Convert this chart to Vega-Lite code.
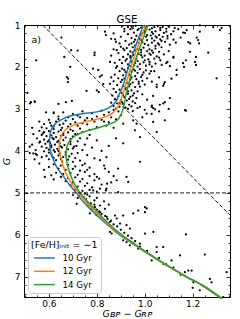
{
  "$schema": "https://vega.github.io/schema/vega-lite/v6.json",
  "width": 206,
  "height": 272,
  "autosize": {"type": "none"},
  "padding": {"left": 24, "top": 25, "right": 10, "bottom": 22},
  "config": {
    "font": "DejaVu Sans",
    "view": {"stroke": "black", "strokeWidth": 1},
    "axis": {"grid": false, "domain": false, "tickColor": "black", "tickWidth": 0.8, "labelColor": "black", "titleColor": "black", "labelFontSize": 9, "titleFontSize": 9.5, "titleFontWeight": "normal"}
  },
  "title": {"text": "GSE", "fontSize": 10.2, "fontWeight": "normal", "offset": 0, "dy": 4, "color": "black"},
  "datasets": {
    "stars": [
      {"c":0.905,"g":1.03},{"c":0.93,"g":1.05},{"c":0.962,"g":1.02},{"c":0.985,"g":1.06},{"c":1.01,"g":1.03},{"c":1.03,"g":1.08},{"c":1.055,"g":1.02},{"c":1.075,"g":1.05},{"c":1.1,"g":1.04},{"c":1.125,"g":1.07},
      {"c":0.94,"g":1.1},{"c":0.97,"g":1.12},{"c":1.0,"g":1.14},{"c":1.02,"g":1.11},{"c":1.045,"g":1.15},{"c":1.065,"g":1.12},{"c":1.09,"g":1.16},{"c":0.915,"g":1.15},{"c":0.955,"g":1.18},{"c":0.99,"g":1.2},
      {"c":1.035,"g":1.21},{"c":1.06,"g":1.24},{"c":1.08,"g":1.19},{"c":1.11,"g":1.22},{"c":0.93,"g":1.22},{"c":0.965,"g":1.26},{"c":1.005,"g":1.28},{"c":1.025,"g":1.25},{"c":1.05,"g":1.3},{"c":1.075,"g":1.28},
      {"c":0.9,"g":1.28},{"c":0.945,"g":1.31},{"c":0.98,"g":1.33},{"c":1.01,"g":1.36},{"c":1.04,"g":1.37},{"c":1.065,"g":1.34},{"c":1.095,"g":1.32},{"c":0.92,"g":1.38},{"c":0.955,"g":1.4},{"c":0.975,"g":1.43},
      {"c":1.0,"g":1.45},{"c":1.03,"g":1.42},{"c":1.055,"g":1.44},{"c":1.085,"g":1.4},{"c":0.895,"g":1.44},{"c":0.935,"g":1.47},{"c":0.96,"g":1.49},{"c":0.985,"g":1.36},{"c":1.015,"g":1.48},{"c":1.045,"g":1.5},
      {"c":1.14,"g":1.1},{"c":1.16,"g":1.18},{"c":1.15,"g":1.3},{"c":1.13,"g":1.42},{"c":1.12,"g":1.35},{"c":1.105,"g":1.47},{"c":0.87,"g":1.2},{"c":0.86,"g":1.33},{"c":0.88,"g":1.4},{"c":0.95,"g":1.08},
      {"c":0.915,"g":1.09},{"c":0.945,"g":1.04},{"c":0.975,"g":1.09},{"c":1.0,"g":1.06},{"c":1.04,"g":1.05},{"c":1.065,"g":1.07},{"c":1.09,"g":1.09},{"c":1.0,"g":1.17},{"c":1.03,"g":1.17},{"c":0.98,"g":1.24},
      {"c":1.045,"g":1.27},{"c":1.095,"g":1.26},{"c":0.96,"g":1.35},{"c":1.03,"g":1.32},{"c":1.07,"g":1.38},{"c":0.99,"g":1.41},{"c":1.06,"g":1.47},{"c":0.945,"g":1.44},{"c":1.01,"g":1.24},{"c":1.12,"g":1.15},
      {"c":0.9,"g":1.52},{"c":0.925,"g":1.55},{"c":0.95,"g":1.53},{"c":0.97,"g":1.57},{"c":0.995,"g":1.54},{"c":1.02,"g":1.58},{"c":1.045,"g":1.56},{"c":1.07,"g":1.53},{"c":0.915,"g":1.6},{"c":0.94,"g":1.63},
      {"c":0.96,"g":1.61},{"c":0.985,"g":1.65},{"c":1.01,"g":1.62},{"c":1.035,"g":1.66},{"c":1.06,"g":1.64},{"c":0.89,"g":1.67},{"c":0.93,"g":1.7},{"c":0.955,"g":1.72},{"c":0.975,"g":1.69},{"c":1.0,"g":1.73},
      {"c":1.025,"g":1.71},{"c":1.05,"g":1.75},{"c":1.08,"g":1.7},{"c":0.91,"g":1.76},{"c":0.94,"g":1.78},{"c":0.965,"g":1.8},{"c":0.99,"g":1.77},{"c":1.015,"g":1.82},{"c":1.04,"g":1.8},{"c":0.895,"g":1.83},
      {"c":0.92,"g":1.85},{"c":0.945,"g":1.87},{"c":0.97,"g":1.86},{"c":0.995,"g":1.89},{"c":1.02,"g":1.88},{"c":1.045,"g":1.92},{"c":0.905,"g":1.91},{"c":0.93,"g":1.94},{"c":0.955,"g":1.96},{"c":0.98,"g":1.93},
      {"c":1.005,"g":1.97},{"c":0.885,"g":1.98},{"c":1.1,"g":1.62},{"c":1.12,"g":1.78},{"c":1.095,"g":1.88},{"c":0.87,"g":1.58},{"c":0.86,"g":1.73},{"c":0.875,"g":1.9},{"c":1.065,"g":1.84},{"c":1.03,"g":1.99},
      {"c":0.91,"g":1.56},{"c":0.985,"g":1.59},{"c":1.03,"g":1.61},{"c":0.95,"g":1.66},{"c":1.02,"g":1.68},{"c":0.94,"g":1.74},{"c":0.985,"g":1.72},{"c":1.06,"g":1.78},{"c":0.925,"g":1.81},{"c":1.0,"g":1.84},
      {"c":0.96,"g":1.91},{"c":1.02,"g":1.94},{"c":0.94,"g":1.98},{"c":0.97,"g":1.99},
      {"c":0.88,"g":2.02},{"c":0.905,"g":2.04},{"c":0.93,"g":2.03},{"c":0.955,"g":2.06},{"c":0.98,"g":2.05},{"c":1.005,"g":2.08},{"c":0.895,"g":2.1},{"c":0.92,"g":2.12},{"c":0.945,"g":2.11},{"c":0.97,"g":2.14},
      {"c":0.995,"g":2.13},{"c":1.02,"g":2.16},{"c":0.875,"g":2.18},{"c":0.91,"g":2.2},{"c":0.935,"g":2.19},{"c":0.96,"g":2.22},{"c":0.985,"g":2.24},{"c":0.89,"g":2.27},{"c":0.915,"g":2.28},{"c":0.94,"g":2.3},
      {"c":0.965,"g":2.29},{"c":0.99,"g":2.33},{"c":0.87,"g":2.34},{"c":0.9,"g":2.36},{"c":0.925,"g":2.38},{"c":0.95,"g":2.37},{"c":0.975,"g":2.4},{"c":1.0,"g":2.42},{"c":0.885,"g":2.43},{"c":0.91,"g":2.45},
      {"c":0.935,"g":2.46},{"c":0.96,"g":2.48},{"c":0.98,"g":2.47},{"c":1.04,"g":2.1},{"c":1.06,"g":2.25},{"c":1.03,"g":2.35},{"c":1.08,"g":2.4},{"c":1.05,"g":2.48},{"c":0.86,"g":2.25},{"c":0.855,"g":2.4},
      {"c":0.915,"g":2.07},{"c":0.96,"g":2.09},{"c":0.99,"g":2.19},{"c":0.945,"g":2.25},{"c":0.905,"g":2.31},{"c":0.975,"g":2.35},{"c":0.94,"g":2.41},{"c":0.92,"g":2.49},{"c":1.01,"g":2.27},
      {"c":0.87,"g":2.52},{"c":0.895,"g":2.54},{"c":0.92,"g":2.53},{"c":0.945,"g":2.56},{"c":0.97,"g":2.58},{"c":0.88,"g":2.6},{"c":0.905,"g":2.62},{"c":0.93,"g":2.64},{"c":0.955,"g":2.63},{"c":0.865,"g":2.68},
      {"c":0.89,"g":2.7},{"c":0.915,"g":2.72},{"c":0.94,"g":2.71},{"c":0.965,"g":2.74},{"c":0.875,"g":2.77},{"c":0.9,"g":2.79},{"c":0.925,"g":2.8},{"c":0.95,"g":2.82},{"c":0.86,"g":2.85},{"c":0.885,"g":2.87},
      {"c":0.91,"g":2.88},{"c":0.935,"g":2.9},{"c":0.96,"g":2.86},{"c":0.87,"g":2.93},{"c":0.895,"g":2.95},{"c":0.92,"g":2.97},{"c":0.99,"g":2.65},{"c":1.01,"g":2.78},{"c":1.03,"g":2.92},{"c":0.98,"g":2.95},
      {"c":0.93,"g":2.58},{"c":0.91,"g":2.67},{"c":0.95,"g":2.68},{"c":0.935,"g":2.76},{"c":0.905,"g":2.84},{"c":0.945,"g":2.94},{"c":0.88,"g":2.99},
      {"c":0.652,"g":1.3},{"c":0.547,"g":1.84},{"c":0.664,"g":1.76},{"c":0.693,"g":1.6},{"c":0.791,"g":1.66},{"c":0.79,"g":1.72},{"c":0.689,"g":2.0},{"c":0.784,"g":2.04},{"c":0.821,"g":2.2},{"c":0.675,"g":2.24},
      {"c":0.679,"g":2.36},{"c":0.8,"g":2.56},{"c":0.808,"g":2.6},{"c":0.51,"g":2.62},{"c":0.525,"g":2.84},{"c":0.54,"g":2.82},{"c":0.64,"g":2.88},{"c":0.671,"g":2.84},{"c":0.696,"g":2.81},{"c":0.62,"g":3.08},
      {"c":0.588,"g":3.08},{"c":0.72,"g":1.61},{"c":0.68,"g":2.28},{"c":0.834,"g":1.16},{"c":0.838,"g":1.24},{"c":0.876,"g":1.34},{"c":0.883,"g":1.6},{"c":0.855,"g":1.88},{"c":0.806,"g":2.07},{"c":0.813,"g":2.23},
      {"c":0.827,"g":2.41},{"c":0.757,"g":2.57},
      {"c":1.175,"g":1.12},{"c":1.23,"g":1.16},{"c":1.314,"g":1.12},{"c":1.265,"g":1.66},{"c":1.19,"g":1.44},{"c":1.223,"g":1.36},{"c":1.227,"g":1.44},{"c":1.3,"g":2.27},{"c":1.352,"g":1.56},{"c":1.21,"g":1.88},
      {"c":1.16,"g":1.91},{"c":1.164,"g":2.0},{"c":1.12,"g":1.76},{"c":1.09,"g":1.91},{"c":1.23,"g":1.01},{"c":1.286,"g":1.05},{"c":1.321,"g":1.07},{"c":1.182,"g":1.41},{"c":1.217,"g":1.3},{"c":1.168,"g":1.19},
      {"c":1.172,"g":1.84},{"c":1.214,"g":1.76},{"c":1.214,"g":1.95},{"c":1.189,"g":1.64},{"c":1.133,"g":2.19},{"c":1.133,"g":2.07},{"c":1.105,"g":1.98},{"c":1.071,"g":1.95},{"c":1.112,"g":2.28},{"c":1.084,"g":2.36},
      {"c":1.077,"g":2.45},{"c":1.05,"g":2.42},{"c":1.105,"g":2.74},{"c":1.084,"g":2.84},{"c":1.063,"g":2.9},{"c":1.035,"g":2.69},{"c":1.035,"g":2.98},{"c":1.043,"g":3.01},{"c":1.172,"g":3.04},{"c":1.029,"g":3.12},
      {"c":1.026,"g":2.1},
      {"c":1.029,"g":2.95},{"c":1.077,"g":2.87},{"c":1.008,"g":3.11},{"c":1.168,"g":3.03},{"c":0.952,"g":3.27},{"c":0.966,"g":3.35},{"c":0.98,"g":3.67},{"c":0.959,"g":3.51},{"c":0.91,"g":3.82},{"c":0.889,"g":4.42},
      {"c":0.883,"g":4.7},{"c":0.924,"g":4.62},{"c":0.843,"g":4.78},{"c":0.834,"g":4.42},{"c":0.813,"g":4.22},{"c":0.8,"g":4.62},{"c":0.785,"g":4.94},{"c":0.813,"g":4.9},{"c":0.838,"g":4.94},{"c":1.008,"g":5.37},
      {"c":1.035,"g":3.31},{"c":1.05,"g":3.55},{"c":1.084,"g":3.27},{"c":0.98,"g":4.26},{"c":0.931,"g":4.74},{"c":0.889,"g":4.98},{"c":0.93,"g":3.0},{"c":0.95,"g":3.05},{"c":0.97,"g":2.98},{"c":1.0,"g":3.02},
      {"c":1.06,"g":3.06},{"c":1.1,"g":3.0},{"c":0.99,"g":3.2},
      {"c":0.521,"g":2.87},{"c":0.542,"g":2.83},{"c":0.583,"g":4.62},{"c":0.535,"g":4.06},{"c":0.545,"g":4.07},{"c":0.563,"g":3.78},{"c":0.53,"g":3.45},{"c":0.535,"g":3.6},{"c":0.52,"g":3.9},{"c":0.56,"g":4.3},
      {"c":0.58,"g":4.45},
      {"c":0.62,"g":3.1},{"c":0.66,"g":3.08},{"c":0.7,"g":3.12},{"c":0.74,"g":3.06},{"c":0.78,"g":3.1},{"c":0.82,"g":3.04},{"c":0.85,"g":3.08},{"c":0.87,"g":3.02},{"c":0.89,"g":3.06},{"c":0.64,"g":3.18},
      {"c":0.68,"g":3.2},{"c":0.72,"g":3.16},{"c":0.76,"g":3.22},{"c":0.8,"g":3.18},{"c":0.83,"g":3.14},{"c":0.86,"g":3.2},{"c":0.6,"g":3.26},{"c":0.63,"g":3.3},{"c":0.67,"g":3.28},{"c":0.71,"g":3.32},
      {"c":0.75,"g":3.27},{"c":0.79,"g":3.3},{"c":0.82,"g":3.26},{"c":0.85,"g":3.32},{"c":0.58,"g":3.36},{"c":0.61,"g":3.4},{"c":0.645,"g":3.38},{"c":0.68,"g":3.42},{"c":0.72,"g":3.4},{"c":0.76,"g":3.37},
      {"c":0.8,"g":3.43},{"c":0.59,"g":3.46},{"c":0.62,"g":3.48},{"c":0.655,"g":3.45},{"c":0.69,"g":3.49},{"c":0.73,"g":3.47},{"c":0.77,"g":3.5},{"c":0.57,"g":3.44},{"c":0.605,"g":3.33},{"c":0.7,"g":3.24},
      {"c":0.88,"g":3.25},{"c":0.9,"g":3.15},{"c":0.84,"g":3.4},{"c":0.87,"g":3.45},{"c":0.56,"g":3.3},{"c":0.66,"g":3.35},{"c":0.74,"g":3.34},{"c":0.91,"g":3.35},
      {"c":0.64,"g":3.24},{"c":0.69,"g":3.36},{"c":0.78,"g":3.24},{"c":0.83,"g":3.3},{"c":0.73,"g":3.2},{"c":0.62,"g":3.42},
      {"c":0.56,"g":3.52},{"c":0.58,"g":3.55},{"c":0.6,"g":3.53},{"c":0.62,"g":3.57},{"c":0.64,"g":3.54},{"c":0.66,"g":3.58},{"c":0.68,"g":3.56},{"c":0.71,"g":3.6},{"c":0.74,"g":3.55},{"c":0.57,"g":3.62},
      {"c":0.59,"g":3.65},{"c":0.61,"g":3.63},{"c":0.63,"g":3.67},{"c":0.65,"g":3.64},{"c":0.67,"g":3.68},{"c":0.7,"g":3.66},{"c":0.73,"g":3.7},{"c":0.77,"g":3.62},{"c":0.55,"g":3.7},{"c":0.58,"g":3.73},
      {"c":0.6,"g":3.75},{"c":0.62,"g":3.72},{"c":0.64,"g":3.76},{"c":0.66,"g":3.74},{"c":0.69,"g":3.78},{"c":0.72,"g":3.77},{"c":0.56,"g":3.8},{"c":0.585,"g":3.83},{"c":0.605,"g":3.81},{"c":0.625,"g":3.85},
      {"c":0.645,"g":3.82},{"c":0.665,"g":3.86},{"c":0.69,"g":3.84},{"c":0.715,"g":3.88},{"c":0.75,"g":3.85},{"c":0.57,"g":3.9},{"c":0.59,"g":3.93},{"c":0.61,"g":3.91},{"c":0.635,"g":3.95},{"c":0.655,"g":3.92},
      {"c":0.68,"g":3.96},{"c":0.7,"g":3.94},{"c":0.74,"g":3.98},{"c":0.545,"g":3.98},{"c":0.58,"g":4.01},{"c":0.6,"g":4.04},{"c":0.625,"g":4.02},{"c":0.645,"g":4.06},{"c":0.67,"g":4.03},{"c":0.695,"g":4.07},
      {"c":0.72,"g":4.05},{"c":0.55,"g":4.1},{"c":0.59,"g":4.12},{"c":0.615,"g":4.14},{"c":0.64,"g":4.11},{"c":0.66,"g":4.15},{"c":0.685,"g":4.13},{"c":0.71,"g":4.17},{"c":0.76,"g":4.1},{"c":0.6,"g":4.2},
      {"c":0.63,"g":4.22},{"c":0.655,"g":4.25},{"c":0.68,"g":4.21},{"c":0.7,"g":4.26},{"c":0.73,"g":4.23},{"c":0.78,"g":3.92},{"c":0.8,"g":3.75},{"c":0.82,"g":4.0},{"c":0.85,"g":3.88},{"c":0.79,"g":4.18},
      {"c":0.84,"g":4.15},{"c":0.53,"g":3.85},{"c":0.52,"g":4.05},{"c":0.54,"g":4.2},{"c":0.88,"g":3.7},{"c":0.76,"g":3.7},{"c":0.62,"g":3.98},{"c":0.66,"g":3.62},{"c":0.57,"g":4.15},{"c":0.75,"g":4.3},
      {"c":0.575,"g":3.58},{"c":0.615,"g":3.69},{"c":0.595,"g":3.78},{"c":0.635,"g":3.79},{"c":0.61,"g":3.87},{"c":0.65,"g":3.89},{"c":0.6,"g":3.97},{"c":0.64,"g":4.0},{"c":0.61,"g":4.08},{"c":0.67,"g":4.09},
      {"c":0.62,"g":4.17},{"c":0.65,"g":4.19},{"c":0.69,"g":3.72},{"c":0.705,"g":3.9},{"c":0.72,"g":3.6},{"c":0.65,"g":3.5},{"c":0.7,"g":3.52},
      {"c":0.62,"g":4.32},{"c":0.65,"g":4.35},{"c":0.68,"g":4.33},{"c":0.71,"g":4.37},{"c":0.74,"g":4.34},{"c":0.64,"g":4.42},{"c":0.67,"g":4.45},{"c":0.7,"g":4.43},{"c":0.73,"g":4.47},{"c":0.77,"g":4.4},
      {"c":0.63,"g":4.52},{"c":0.66,"g":4.55},{"c":0.69,"g":4.53},{"c":0.72,"g":4.57},{"c":0.75,"g":4.5},{"c":0.79,"g":4.55},{"c":0.65,"g":4.62},{"c":0.68,"g":4.65},{"c":0.71,"g":4.63},{"c":0.74,"g":4.67},
      {"c":0.77,"g":4.6},{"c":0.81,"g":4.66},{"c":0.67,"g":4.72},{"c":0.7,"g":4.75},{"c":0.73,"g":4.73},{"c":0.76,"g":4.77},{"c":0.79,"g":4.7},{"c":0.69,"g":4.82},{"c":0.72,"g":4.85},{"c":0.75,"g":4.83},
      {"c":0.78,"g":4.87},{"c":0.82,"g":4.8},{"c":0.71,"g":4.92},{"c":0.74,"g":4.95},{"c":0.77,"g":4.93},{"c":0.8,"g":4.97},{"c":0.6,"g":4.38},{"c":0.61,"g":4.58},{"c":0.85,"g":4.5},{"c":0.87,"g":4.6},
      {"c":0.83,"g":4.35},{"c":0.86,"g":4.75},{"c":0.76,"g":4.45},{"c":0.62,"g":4.68},{"c":0.84,"g":4.9},
      {"c":0.716,"g":5.26},{"c":0.764,"g":5.3},{"c":0.778,"g":5.38},{"c":0.792,"g":5.34},{"c":0.813,"g":5.3},{"c":0.834,"g":5.38},{"c":0.771,"g":5.49},{"c":0.799,"g":5.53},{"c":0.813,"g":5.46},{"c":0.841,"g":5.57},
      {"c":0.855,"g":5.69},{"c":0.876,"g":5.54},{"c":0.883,"g":5.61},{"c":0.91,"g":5.54},{"c":0.952,"g":5.49},{"c":0.973,"g":5.42},{"c":1.001,"g":5.34},{"c":1.001,"g":5.46},{"c":0.855,"g":5.93},{"c":0.862,"g":5.97},
      {"c":0.897,"g":5.73},{"c":0.924,"g":5.77},{"c":0.938,"g":5.85},{"c":0.91,"g":6.13},{"c":0.924,"g":6.17},{"c":0.938,"g":6.25},{"c":0.952,"g":6.21},{"c":0.973,"g":6.33},{"c":0.98,"g":6.21},{"c":1.001,"g":5.97},
      {"c":1.036,"g":5.93},{"c":1.05,"g":6.29},{"c":1.05,"g":6.41},{"c":1.077,"g":6.29},{"c":1.029,"g":6.61},{"c":1.077,"g":6.69},{"c":1.112,"g":6.61},{"c":1.147,"g":6.49},{"c":1.172,"g":5.99},{"c":1.168,"g":6.89},
      {"c":1.182,"g":6.85},{"c":1.196,"g":6.85},{"c":1.203,"g":7.13},{"c":1.2,"g":7.26},{"c":1.251,"g":6.47},{"c":1.272,"g":7.05},{"c":1.279,"g":7.13},{"c":1.23,"g":7.32},{"c":1.342,"g":6.89},{"c":1.328,"g":7.48},
      {"c":0.73,"g":5.05},{"c":0.745,"g":5.1},{"c":0.755,"g":5.15},{"c":0.76,"g":5.22},{"c":0.775,"g":5.25},{"c":0.79,"g":5.28},{"c":0.78,"g":5.35},{"c":0.8,"g":5.4},{"c":0.81,"g":5.44},{"c":0.82,"g":5.5},
      {"c":0.835,"g":5.55},{"c":0.845,"g":5.62},{"c":0.86,"g":5.66},{"c":0.87,"g":5.75},{"c":0.885,"g":5.8},{"c":0.9,"g":5.88},{"c":0.915,"g":5.95},{"c":0.93,"g":6.02},{"c":0.945,"g":6.08},{"c":0.96,"g":6.15},
      {"c":0.98,"g":6.28},{"c":1.01,"g":6.38},{"c":1.03,"g":6.5},{"c":1.06,"g":6.55},{"c":1.09,"g":6.7},{"c":1.12,"g":6.78},{"c":1.15,"g":6.95},{"c":0.75,"g":5.02},{"c":0.77,"g":5.08},{"c":0.8,"g":5.12},
      {"c":0.83,"g":5.2},{"c":0.79,"g":5.18},{"c":0.85,"g":5.28},{"c":0.7,"g":5.05},{"c":0.72,"g":5.12},{"c":0.76,"g":5.04}
    ],
    "iso": [
      {"age":"10 Gyr","o":1,"c":1.32,"g":7.52},{"age":"10 Gyr","o":2,"c":1.238,"g":7.2},{"age":"10 Gyr","o":3,"c":1.172,"g":7.0},{"age":"10 Gyr","o":4,"c":1.112,"g":6.8},{"age":"10 Gyr","o":5,"c":1.055,"g":6.6},{"age":"10 Gyr","o":6,"c":1.0,"g":6.4},{"age":"10 Gyr","o":7,"c":0.948,"g":6.2},{"age":"10 Gyr","o":8,"c":0.895,"g":6.0},{"age":"10 Gyr","o":9,"c":0.853,"g":5.8},{"age":"10 Gyr","o":10,"c":0.813,"g":5.6},{"age":"10 Gyr","o":11,"c":0.775,"g":5.4},{"age":"10 Gyr","o":12,"c":0.742,"g":5.2},{"age":"10 Gyr","o":13,"c":0.714,"g":5.0},{"age":"10 Gyr","o":14,"c":0.685,"g":4.8},{"age":"10 Gyr","o":15,"c":0.66,"g":4.6},{"age":"10 Gyr","o":16,"c":0.636,"g":4.42},{"age":"10 Gyr","o":17,"c":0.618,"g":4.2},{"age":"10 Gyr","o":18,"c":0.605,"g":3.95},{"age":"10 Gyr","o":19,"c":0.603,"g":3.72},{"age":"10 Gyr","o":20,"c":0.609,"g":3.5},{"age":"10 Gyr","o":21,"c":0.627,"g":3.35},{"age":"10 Gyr","o":22,"c":0.66,"g":3.23},{"age":"10 Gyr","o":23,"c":0.7,"g":3.15},{"age":"10 Gyr","o":24,"c":0.745,"g":3.11},{"age":"10 Gyr","o":25,"c":0.8,"g":3.07},{"age":"10 Gyr","o":26,"c":0.848,"g":2.98},{"age":"10 Gyr","o":27,"c":0.876,"g":2.85},{"age":"10 Gyr","o":28,"c":0.89,"g":2.7},{"age":"10 Gyr","o":29,"c":0.912,"g":2.4},{"age":"10 Gyr","o":30,"c":0.932,"g":2.0},{"age":"10 Gyr","o":31,"c":0.962,"g":1.5},{"age":"10 Gyr","o":32,"c":0.995,"g":1.0},
      {"age":"12 Gyr","o":1,"c":1.322,"g":7.52},{"age":"12 Gyr","o":2,"c":1.24,"g":7.2},{"age":"12 Gyr","o":3,"c":1.174,"g":7.0},{"age":"12 Gyr","o":4,"c":1.114,"g":6.8},{"age":"12 Gyr","o":5,"c":1.057,"g":6.6},{"age":"12 Gyr","o":6,"c":1.002,"g":6.4},{"age":"12 Gyr","o":7,"c":0.951,"g":6.2},{"age":"12 Gyr","o":8,"c":0.9,"g":6.0},{"age":"12 Gyr","o":9,"c":0.858,"g":5.8},{"age":"12 Gyr","o":10,"c":0.82,"g":5.6},{"age":"12 Gyr","o":11,"c":0.785,"g":5.4},{"age":"12 Gyr","o":12,"c":0.752,"g":5.2},{"age":"12 Gyr","o":13,"c":0.724,"g":5.0},{"age":"12 Gyr","o":14,"c":0.698,"g":4.8},{"age":"12 Gyr","o":15,"c":0.677,"g":4.6},{"age":"12 Gyr","o":16,"c":0.662,"g":4.4},{"age":"12 Gyr","o":17,"c":0.65,"g":4.15},{"age":"12 Gyr","o":18,"c":0.643,"g":3.9},{"age":"12 Gyr","o":19,"c":0.648,"g":3.68},{"age":"12 Gyr","o":20,"c":0.668,"g":3.5},{"age":"12 Gyr","o":21,"c":0.7,"g":3.39},{"age":"12 Gyr","o":22,"c":0.74,"g":3.32},{"age":"12 Gyr","o":23,"c":0.79,"g":3.26},{"age":"12 Gyr","o":24,"c":0.834,"g":3.19},{"age":"12 Gyr","o":25,"c":0.865,"g":3.1},{"age":"12 Gyr","o":26,"c":0.884,"g":2.98},{"age":"12 Gyr","o":27,"c":0.897,"g":2.85},{"age":"12 Gyr","o":28,"c":0.905,"g":2.7},{"age":"12 Gyr","o":29,"c":0.922,"g":2.4},{"age":"12 Gyr","o":30,"c":0.942,"g":2.0},{"age":"12 Gyr","o":31,"c":0.972,"g":1.5},{"age":"12 Gyr","o":32,"c":1.005,"g":1.0},
      {"age":"14 Gyr","o":1,"c":1.324,"g":7.52},{"age":"14 Gyr","o":2,"c":1.242,"g":7.2},{"age":"14 Gyr","o":3,"c":1.176,"g":7.0},{"age":"14 Gyr","o":4,"c":1.116,"g":6.8},{"age":"14 Gyr","o":5,"c":1.059,"g":6.6},{"age":"14 Gyr","o":6,"c":1.004,"g":6.4},{"age":"14 Gyr","o":7,"c":0.954,"g":6.2},{"age":"14 Gyr","o":8,"c":0.905,"g":6.0},{"age":"14 Gyr","o":9,"c":0.863,"g":5.8},{"age":"14 Gyr","o":10,"c":0.826,"g":5.6},{"age":"14 Gyr","o":11,"c":0.794,"g":5.4},{"age":"14 Gyr","o":12,"c":0.76,"g":5.2},{"age":"14 Gyr","o":13,"c":0.731,"g":5.0},{"age":"14 Gyr","o":14,"c":0.708,"g":4.8},{"age":"14 Gyr","o":15,"c":0.692,"g":4.6},{"age":"14 Gyr","o":16,"c":0.68,"g":4.4},{"age":"14 Gyr","o":17,"c":0.673,"g":4.2},{"age":"14 Gyr","o":18,"c":0.672,"g":4.02},{"age":"14 Gyr","o":19,"c":0.68,"g":3.82},{"age":"14 Gyr","o":20,"c":0.7,"g":3.68},{"age":"14 Gyr","o":21,"c":0.744,"g":3.55},{"age":"14 Gyr","o":22,"c":0.81,"g":3.44},{"age":"14 Gyr","o":23,"c":0.86,"g":3.35},{"age":"14 Gyr","o":24,"c":0.885,"g":3.27},{"age":"14 Gyr","o":25,"c":0.9,"g":3.15},{"age":"14 Gyr","o":26,"c":0.912,"g":2.95},{"age":"14 Gyr","o":27,"c":0.92,"g":2.7},{"age":"14 Gyr","o":28,"c":0.933,"g":2.4},{"age":"14 Gyr","o":29,"c":0.952,"g":2.0},{"age":"14 Gyr","o":30,"c":0.982,"g":1.5},{"age":"14 Gyr","o":31,"c":1.014,"g":1.0}
    ],
    "cuts": [
      {"c":0.496,"g":5.0,"c2":1.356,"g2":5.0},
      {"c":0.574,"g":1.0,"c2":1.356,"g2":5.53}
    ],
    "labels": [
      {"c":0.527,"g":1.36,"t":"a)"}
    ]
  },
  "layer": [
    {
      "data": {"name": "stars"},
      "mark": {"type": "circle", "size": 5, "color": "black", "opacity": 1},
      "encoding": {
        "x": {"field": "c", "type": "quantitative", "scale": {"domain": [0.496, 1.356], "nice": false, "zero": false},
              "axis": {"orient": "bottom", "values": [0.6, 0.8, 1.0, 1.2], "format": ".1f", "tickSize": -4, "labelPadding": 6, "title": "Gʙᴘ − Gʀᴘ", "titleFontStyle": "italic", "titlePadding": 0}},
        "y": {"field": "g", "type": "quantitative", "scale": {"domain": [1, 7.48], "nice": false, "zero": false, "reverse": true},
              "axis": {"orient": "left", "values": [1, 2, 3, 4, 5, 6, 7], "format": "d", "tickSize": -4, "labelPadding": 8, "title": "G", "titleFontStyle": "italic", "titlePadding": 3}}
      }
    },
    {
      "data": {"name": "iso"},
      "mark": {"type": "line", "strokeWidth": 1.5, "interpolate": "catmull-rom"},
      "encoding": {
        "x": {"field": "c", "type": "quantitative", "axis": {"orient": "top", "values": [0.6, 0.8, 1.0, 1.2], "tickSize": -4, "labels": false, "title": null}},
        "y": {"field": "g", "type": "quantitative", "axis": {"orient": "right", "values": [1, 2, 3, 4, 5, 6, 7], "tickSize": -4, "labels": false, "title": null}},
        "order": {"field": "o", "type": "quantitative"},
        "color": {"field": "age", "type": "nominal",
                  "scale": {"domain": ["10 Gyr", "12 Gyr", "14 Gyr"], "range": ["#1f77b4", "#ff7f0e", "#2ca02c"]},
                  "legend": {"title": "[Fe/H]ᵢₙᵢₜ = −1", "orient": "bottom-left", "offset": 4, "padding": 3,
                             "fillColor": "white", "strokeColor": "#cccccc", "cornerRadius": 3,
                             "symbolType": "M-0.6,0H3", "symbolSize": 132, "symbolStrokeWidth": 1.5,
                             "titleFontSize": 9.5, "titleFontWeight": "normal", "titleColor": "black", "titlePadding": 2,
                             "labelFontSize": 8.7, "labelColor": "black", "rowPadding": 1.3, "labelOffset": 18.5}}
      }
    },
    {
      "data": {"name": "cuts"},
      "mark": {"type": "rule", "color": "black", "strokeWidth": 0.9, "strokeDash": [4, 2]},
      "encoding": {
        "x": {"field": "c", "type": "quantitative", "axis": {"orient": "bottom", "values": [0.5,0.55,0.65,0.7,0.75,0.85,0.9,0.95,1.05,1.1,1.15,1.25,1.3,1.35], "tickSize": -2, "labels": false, "title": null}},
        "y": {"field": "g", "type": "quantitative", "axis": {"orient": "left", "values": [1.2,1.4,1.6,1.8,2.2,2.4,2.6,2.8,3.2,3.4,3.6,3.8,4.2,4.4,4.6,4.8,5.2,5.4,5.6,5.8,6.2,6.4,6.6,6.8,7.2,7.4], "tickSize": -2, "labels": false, "title": null}},
        "x2": {"field": "c2"},
        "y2": {"field": "g2"}
      }
    },
    {
      "data": {"name": "labels"},
      "mark": {"type": "text", "align": "left", "baseline": "middle", "fontSize": 9.5, "color": "black"},
      "encoding": {
        "x": {"field": "c", "type": "quantitative", "axis": {"orient": "top", "values": [0.5,0.55,0.65,0.7,0.75,0.85,0.9,0.95,1.05,1.1,1.15,1.25,1.3,1.35], "tickSize": -2, "labels": false, "title": null}},
        "y": {"field": "g", "type": "quantitative", "axis": {"orient": "right", "values": [1.2,1.4,1.6,1.8,2.2,2.4,2.6,2.8,3.2,3.4,3.6,3.8,4.2,4.4,4.6,4.8,5.2,5.4,5.6,5.8,6.2,6.4,6.6,6.8,7.2,7.4], "tickSize": -2, "labels": false, "title": null}},
        "text": {"field": "t"}
      }
    }
  ],
  "resolve": {"axis": {"x": "independent", "y": "independent"}}
}
